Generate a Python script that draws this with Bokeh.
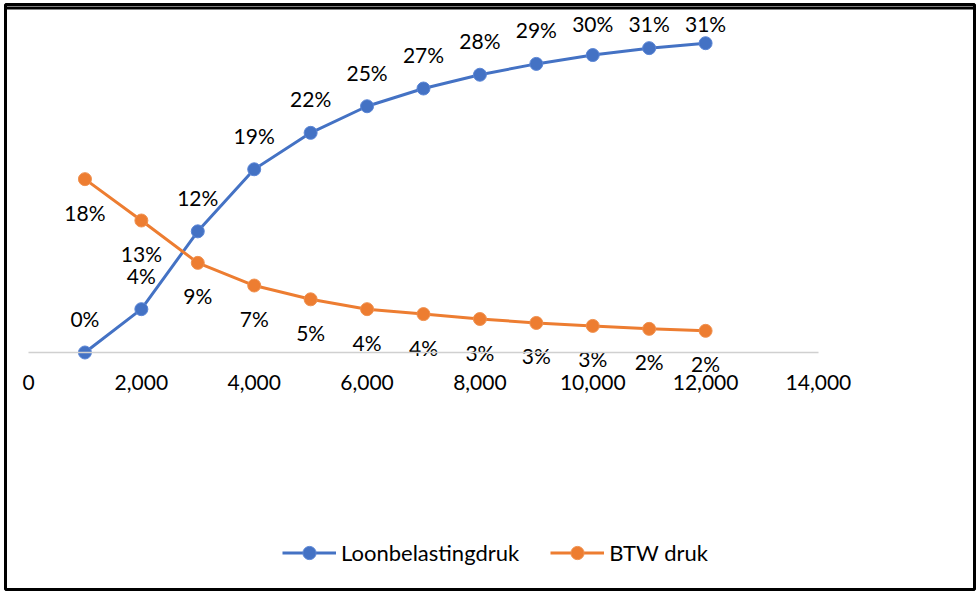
from bokeh.plotting import figure
from bokeh.models import (LinearAxis, FixedTicker, NumeralTickFormatter, Range1d,
                          Legend, LegendItem, ColumnDataSource, Span)
from bokeh.core.properties import value
from bokeh.embed import file_html
from bokeh.resources import INLINE

# ---- data ----
income = [1000, 2000, 3000, 4000, 5000, 6000, 7000, 8000, 9000, 10000, 11000, 12000]
loonbelastingdruk = [0.0, 0.044, 0.123, 0.186, 0.223, 0.250, 0.268, 0.282, 0.293, 0.302, 0.309, 0.314]
btw_druk = [0.176, 0.134, 0.091, 0.068, 0.054, 0.044, 0.039, 0.034, 0.030, 0.027, 0.024, 0.022]
x_ticks = [0, 2000, 4000, 6000, 8000, 10000, 12000, 14000]
series_names = ["Loonbelastingdruk", "BTW druk"]

BLUE = "#4472C4"
ORANGE = "#ED7D31"
FONT = "Lato"

PX = 985.0              # pixels per unit of the y scale
Y0, Y1 = -0.2406, 0.3533
LABEL_UP = 34 / PX      # label distance above a point (data units)
LABEL_TOP = 0.334       # labels are kept inside the plot area

def pct(v):
    return [f"{int(x * 100 + 0.5)}%" for x in v]

src_l = ColumnDataSource(dict(x=income, y=loonbelastingdruk, lab=pct(loonbelastingdruk),
                              ly=[min(v + LABEL_UP, LABEL_TOP) for v in loonbelastingdruk]))
src_b = ColumnDataSource(dict(x=income, y=btw_druk, lab=pct(btw_druk)))

p = figure(width=978, height=591, output_backend="svg", toolbar_location=None,
           x_range=Range1d(-408, 16766), y_range=Range1d(Y0, Y1),
           x_axis_location=None, y_axis_location=None,
           min_border_left=5, min_border_top=4, min_border_right=4, min_border_bottom=2)
p.grid.grid_line_color = None
p.outline_line_color = "black"
p.outline_line_width = 3
p.background_fill_color = "white"
# top edge of the frame, drawn inside the plot area
p.add_layout(Span(location=Y1 - 3.5 / PX, dimension="width", line_color="black", line_width=3))

ax = LinearAxis(fixed_location=0, ticker=FixedTicker(ticks=x_ticks),
                formatter=NumeralTickFormatter(format="0,0"), bounds=(0, 14000),
                axis_line_color="#d0d0d0", axis_line_width=1.5,
                major_tick_line_color=None, minor_tick_line_color=None,
                major_label_text_font=FONT, major_label_text_font_size="21px",
                major_label_text_color="black", major_label_standoff=16)
p.add_layout(ax, "below")

l1 = p.line("x", "y", source=src_l, line_color=BLUE, line_width=3)
m1 = p.scatter("x", "y", source=src_l, size=13, fill_color=BLUE, line_color="#5B86D6", line_width=1)
l2 = p.line("x", "y", source=src_b, line_color=ORANGE, line_width=3)
m2 = p.scatter("x", "y", source=src_b, size=13, fill_color=ORANGE, line_color="#F0914F", line_width=1)

p.text("x", "ly", text="lab", source=src_l, text_align="center",
       text_baseline="middle", text_font=value(FONT), text_font_size="21px", text_color="black")
p.text("x", "y", text="lab", source=src_b, y_offset=33, text_align="center",
       text_baseline="middle", text_font=value(FONT), text_font_size="21px", text_color="black")

legend = Legend(items=[LegendItem(label=series_names[0], renderers=[l1, m1]),
                       LegendItem(label=series_names[1], renderers=[l2, m2])],
                orientation="horizontal", location=(277, 20),
                border_line_color=None, background_fill_alpha=0, padding=0, margin=0,
                spacing=31, label_standoff=5, glyph_width=54, glyph_height=33,
                label_height=33, label_text_font=FONT, label_text_font_size="22px",
                label_text_color="black")
p.add_layout(legend)

open("out.html", "w").write(file_html(p, INLINE))
